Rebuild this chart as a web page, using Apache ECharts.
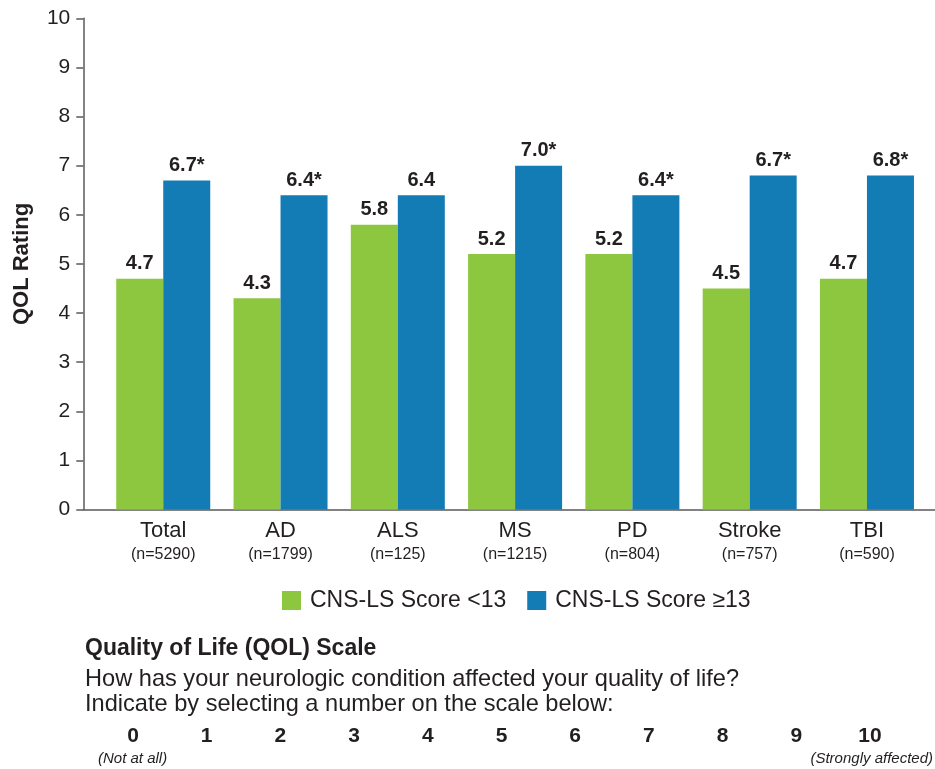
<!DOCTYPE html>
<html>
<head>
<meta charset="utf-8">
<script src="https://cdn.jsdelivr.net/npm/echarts@6/dist/echarts.min.js"></script>
<style>
  html, body { margin: 0; padding: 0; background: #fff; }
  #chart { width: 935px; height: 769px; }
</style>
</head>
<body>
<div id="chart"></div>
<script>
// categories and sample sizes
const groups = ['Total', 'AD', 'ALS', 'MS', 'PD', 'Stroke', 'TBI']
const sampleSizes = ['5290', '1799', '125', '1215', '804', '757', '590']

// QOL ratings per group
const lowScore = [4.7, 4.3, 5.8, 5.2, 5.2, 4.5, 4.7]
const highScore = [6.7, 6.4, 6.4, 7.0, 6.4, 6.8, 6.8]
const lowLabels = ['4.7', '4.3', '5.8', '5.2', '5.2', '4.5', '4.7']
const highLabels = ['6.7*', '6.4*', '6.4', '7.0*', '6.4*', '6.7*', '6.8*']

const seriesNames = ['CNS-LS Score <13', 'CNS-LS Score \u226513']
const yTicks = [0, 10, 1] // min, max, step
const scaleValues = [0, 10, 1]

const font = 'Liberation Sans, Arial, sans-serif'
const textColor = '#231f20'
const green = '#8dc63f'
const blue = '#137cb5'

var myChart = echarts.init(document.getElementById('chart'))

var option = {
  animation: false,
  textStyle: { fontFamily: font },
  grid: [
    // bars
    { left: 104.6, right: 9.4, top: 18.3, bottom: 259.4 },
    // axis frame (y axis sits a bit left of the first bar)
    { left: 83.3, right: 0, top: 18.3, bottom: 259.4 },
    // QOL scale numbers
    { left: 133, right: 65, top: 725, height: 1 }
  ],
  legend: {
    left: 282,
    top: 589,
    padding: 0,
    itemWidth: 19,
    itemHeight: 19,
    itemGap: 21,
    icon: 'rect',
    textStyle: { fontSize: 23, color: textColor, fontFamily: font, padding: [0, 0, 0, 4] },
    data: seriesNames
  },
  xAxis: [
    {
      type: 'category',
      gridIndex: 0,
      data: groups,
      axisLine: { show: false },
      axisTick: { show: false },
      axisLabel: {
        margin: 9,
        formatter: (v, i) => '{a|' + v + '}\n{b|(n=' + sampleSizes[i] + ')}',
        rich: {
          a: { fontSize: 22, color: textColor, lineHeight: 25, fontFamily: font },
          b: { fontSize: 16, color: textColor, lineHeight: 21, fontFamily: font }
        }
      }
    },
    {
      type: 'value',
      gridIndex: 1,
      axisLine: { show: true, onZero: false, lineStyle: { color: '#5a5a5a', width: 1.5 } },
      axisTick: { show: false },
      axisLabel: { show: false },
      splitLine: { show: false }
    },
    {
      type: 'value',
      gridIndex: 2,
      min: scaleValues[0],
      max: scaleValues[1],
      interval: scaleValues[2],
      axisLine: { show: false },
      axisTick: { show: false },
      splitLine: { show: false },
      axisLabel: { margin: 0, fontSize: 21, fontWeight: 'bold', color: textColor, fontFamily: font }
    }
  ],
  yAxis: [
    { type: 'value', gridIndex: 0, min: yTicks[0], max: yTicks[1], show: false },
    {
      type: 'value',
      gridIndex: 1,
      min: yTicks[0],
      max: yTicks[1],
      interval: yTicks[2],
      name: 'QOL Rating',
      nameLocation: 'middle',
      nameGap: 50,
      nameTextStyle: { fontSize: 22, fontWeight: 'bold', color: textColor, fontFamily: font },
      axisLine: { show: true, lineStyle: { color: '#5a5a5a', width: 1.5 } },
      axisTick: { show: true, length: 7, lineStyle: { color: '#5a5a5a', width: 1.5 } },
      axisLabel: { margin: 13, fontSize: 21, color: textColor, fontFamily: font },
      splitLine: { show: false }
    },
    { type: 'value', gridIndex: 2, show: false }
  ],
  series: [
    {
      name: seriesNames[0],
      type: 'bar',
      xAxisIndex: 0,
      yAxisIndex: 0,
      data: lowScore,
      barWidth: 47,
      barGap: '0%',
      itemStyle: { color: green },
      label: {
        show: true,
        position: 'top',
        distance: 5,
        fontSize: 20,
        fontWeight: 'bold',
        color: textColor,
        fontFamily: font,
        formatter: p => lowLabels[p.dataIndex]
      }
    },
    {
      name: seriesNames[1],
      type: 'bar',
      xAxisIndex: 0,
      yAxisIndex: 0,
      data: highScore,
      barWidth: 47,
      barGap: '0%',
      itemStyle: { color: blue },
      label: {
        show: true,
        position: 'top',
        distance: 5,
        fontSize: 20,
        fontWeight: 'bold',
        color: textColor,
        fontFamily: font,
        formatter: p => highLabels[p.dataIndex]
      }
    }
  ],
  graphic: [
    {
      type: 'text', left: 85, top: 637,
      style: { text: 'Quality of Life (QOL) Scale', fontSize: 23, fontWeight: 'bold', fill: textColor, fontFamily: font }
    },
    {
      type: 'text', left: 85, top: 667,
      style: {
        text: 'How has your neurologic condition affected your quality of life?\nIndicate by selecting a number on the scale below:',
        fontSize: 23.6, lineHeight: 25, fill: textColor, fontFamily: font
      }
    },
    {
      type: 'text', left: 98, top: 751,
      style: { text: '(Not at all)', fontSize: 15, fontStyle: 'italic', fill: textColor, fontFamily: font }
    },
    {
      type: 'text', right: 2, top: 751,
      style: { text: '(Strongly affected)', fontSize: 15, fontStyle: 'italic', fill: textColor, fontFamily: font }
    }
  ]
}

myChart.setOption(option)
</script>
</body>
</html>
